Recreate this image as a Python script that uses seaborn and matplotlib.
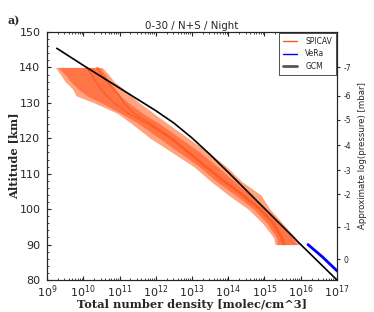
import numpy as np
import pandas as pd
import matplotlib
matplotlib.use('Agg')
import matplotlib.pyplot as plt
import seaborn as sns
from matplotlib.ticker import LogLocator, MultipleLocator, NullFormatter, FixedLocator

sns.set_style('ticks')

# SPICAV profile (log10 of density) on altitude levels [km]
spicav_alt = [140, 138, 136, 134, 132, 130, 127, 124, 120, 116, 112, 108, 104, 100, 96, 92, 90]
spicav_mean = [10.10, 10.22, 10.35, 10.47, 10.65, 10.85, 11.25, 11.80, 12.40, 12.88, 13.36, 13.84, 14.38, 14.85, 15.22, 15.45, 15.52]
spicav_median = [10.38, 10.50, 10.65, 10.82, 11.00, 11.12, 11.40, 11.88, 12.45, 12.93, 13.40, 13.90, 14.42, 14.90, 15.27, 15.50, 15.56]
outer_lo = [9.23, 9.37, 9.50, 9.70, 9.80, 10.30, 10.95, 11.35, 11.85, 12.45, 13.05, 13.50, 14.00, 14.55, 14.95, 15.25, 15.29]
outer_hi = [10.52, 10.70, 10.85, 11.10, 11.33, 11.55, 11.95, 12.35, 12.90, 13.45, 13.95, 14.35, 14.90, 15.15, 15.50, 15.85, 15.98]
inner_lo = [9.30, 9.50, 9.65, 9.85, 10.10, 10.50, 11.05, 11.55, 12.10, 12.65, 13.20, 13.65, 14.20, 14.70, 15.07, 15.33, 15.36]
inner_hi = [10.45, 10.60, 10.72, 10.88, 11.02, 11.25, 11.65, 12.12, 12.68, 13.22, 13.70, 14.15, 14.60, 15.00, 15.38, 15.75, 15.90]

# GCM profile
gcm_logn = [9.27, 10.0, 11.0, 12.0, 12.5, 13.0, 13.5, 14.0, 14.5, 15.0, 15.5, 16.0, 16.5, 17.0]
gcm_alt = [145.4, 140.6, 134.2, 127.8, 124.3, 120.1, 115.4, 110.4, 105.3, 100.2, 95.1, 90.0, 85.0, 80.0]

# VeRa profile
vera_logn = [16.2, 16.6, 17.0, 17.2]
vera_alt = [90.0, 86.5, 82.6, 80.8]

# right axis: approximate log(pressure)
p_labels = ['-7', '-6', '-5', '-4', '-3', '-2', '-1', '0']
p_alt = [140.1, 132.0, 125.2, 118.1, 111.0, 104.2, 95.0, 85.9]

decades = [9, 10, 11, 12, 13, 14, 15, 16, 17]

spicav = pd.DataFrame({'alt': spicav_alt,
                       'mean': np.power(10.0, spicav_mean),
                       'median': np.power(10.0, spicav_median)})
gcm = pd.DataFrame({'n': np.power(10.0, gcm_logn), 'alt': gcm_alt})
vera = pd.DataFrame({'n': np.power(10.0, vera_logn), 'alt': vera_alt})

fig = plt.figure(figsize=(3.74, 3.12), dpi=100)
ax = fig.add_axes([0.1257, 0.1026, 0.7753, 0.7948])

ax.fill_betweenx(spicav_alt, np.power(10.0, outer_lo), np.power(10.0, outer_hi),
                 color='#FFA47E', lw=0)
ax.fill_betweenx(spicav_alt, np.power(10.0, inner_lo), np.power(10.0, inner_hi),
                 color='#FF7548', lw=0)

sns.lineplot(data=spicav, x='mean', y='alt', sort=False, estimator=None,
             color='#FF5A1F', lw=0.9, ax=ax, label='SPICAV')
sns.lineplot(data=spicav, x='median', y='alt', sort=False, estimator=None,
             color='#FF5A1F', lw=0.9, ax=ax)
sns.lineplot(data=vera, x='n', y='alt', sort=False, estimator=None,
             color='#0000FF', lw=2, ax=ax, label='VeRa')
sns.lineplot(data=gcm, x='n', y='alt', sort=False, estimator=None,
             color='black', lw=1.2, ax=ax, label='GCM')

ax.set_xscale('log')
ax.set_xlim(1e9, 1e17)
ax.set_ylim(80, 150)
ax.xaxis.set_major_locator(FixedLocator(np.power(10.0, decades)))
ax.xaxis.set_minor_locator(LogLocator(base=10, subs=np.arange(2, 10), numticks=20))
ax.xaxis.set_minor_formatter(NullFormatter())
ax.yaxis.set_major_locator(MultipleLocator(10))
ax.yaxis.set_minor_locator(MultipleLocator(2))
ax.tick_params(which='both', direction='in', top=True, right=False, labelsize=8)
ax.tick_params(which='major', length=3, width=0.8)
ax.tick_params(which='minor', length=1.5, width=0.6)
ax.tick_params(axis='x', which='major', pad=2.2)
ax.tick_params(axis='y', which='major', pad=4.8)

ax.set_xlabel('Total number density [molec/cm^3]', family='DejaVu Serif',
              fontweight='bold', fontsize=8.2, labelpad=-0.5)
ax.set_ylabel('Altitude [km]', family='DejaVu Serif', fontweight='bold',
              fontsize=8.2, labelpad=0)
ax.set_title('0-30 / N+S / Night', fontsize=7.4, pad=2)

leg = ax.legend(loc='upper right', fontsize=5.5, frameon=True, fancybox=False,
                borderaxespad=0.15, handlelength=1.8, handletextpad=1.1,
                labelspacing=0.45, borderpad=0.5, edgecolor='#333333',
                framealpha=1)
leg.get_frame().set_linewidth(0.6)
leg_lines = leg.get_lines()
leg_lines[0].set_linewidth(1.0)
leg_lines[1].set_linewidth(1.0)
leg_lines[2].set_linewidth(2.0)
leg_lines[2].set_color('#555555')

ax2 = ax.twinx()
ax2.set_ylim(80, 150)
ax2.set_yticks(p_alt)
ax2.set_yticklabels(p_labels)
ax2.tick_params(axis='y', direction='out', length=2.5, labelsize=5.5, pad=2)
ax2.set_ylabel('Approximate log(pressure) [mbar]', fontsize=6.2, labelpad=5)

fig.text(0.02, 0.922, 'a)', family='DejaVu Serif', fontweight='bold', fontsize=8)

fig.savefig('out.png', dpi=100)
